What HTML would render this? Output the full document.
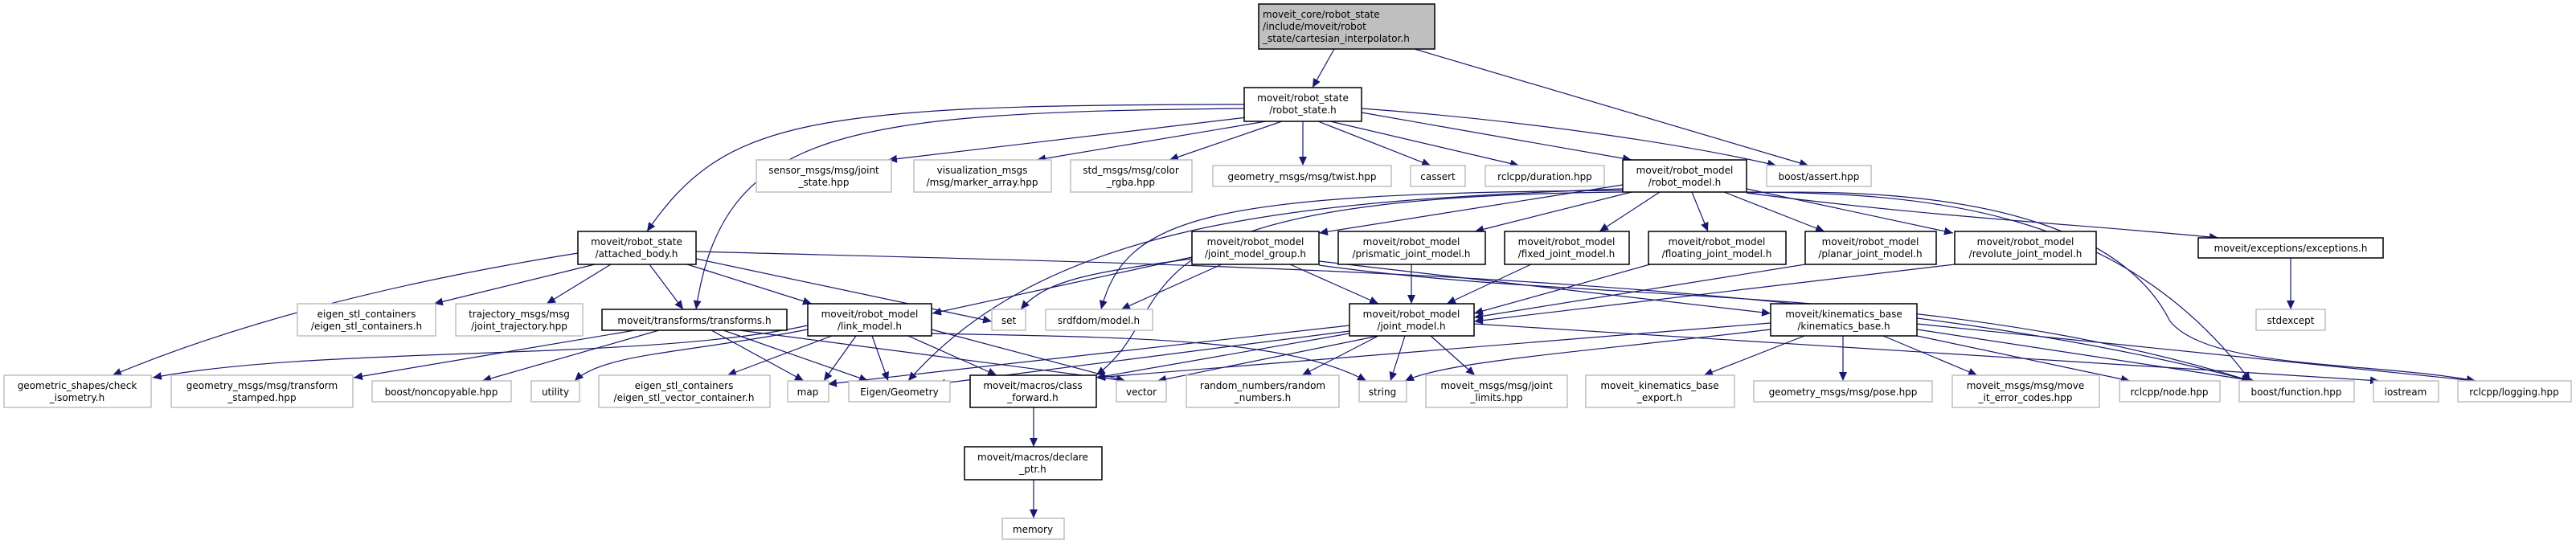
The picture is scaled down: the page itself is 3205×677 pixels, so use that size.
<!DOCTYPE html>
<html><head><meta charset="utf-8"><style>
html,body{margin:0;padding:0;background:#fff;}
svg{display:block;}
text{font-family:"DejaVu Sans","Liberation Sans",sans-serif;font-size:12px;fill:#000;}
.g{fill:#fff;stroke:#bfbfbf;stroke-width:1.5;}
.b{fill:#fff;stroke:#000;stroke-width:1.5;}
.e{fill:none;stroke:#191970;stroke-width:1.2;marker-end:url(#a);}
</style></head><body>
<svg width="3205" height="677" viewBox="0 0 3205 677" xmlns="http://www.w3.org/2000/svg">
<defs><marker id="a" markerUnits="userSpaceOnUse" markerWidth="12" markerHeight="10" refX="11" refY="5" orient="auto"><path d="M0,0 L11,5 L0,10 z" fill="#191970"/></marker></defs>
<g>
<path class="e" d="M1660,61 L1633,109"/>
<path class="e" d="M1760,61 L2250,206"/>
<path class="e" d="M1560,145 L1105,199"/>
<path class="e" d="M1575,151 L1290,199"/>
<path class="e" d="M1595,151 L1455,199"/>
<path class="e" d="M1621,151 L1621,206"/>
<path class="e" d="M1640,151 L1780,206"/>
<path class="e" d="M1655,151 L1890,206"/>
<path class="e" d="M1694,140 L2030,199"/>
<path class="e" d="M1694,135 C1900,150 2100,180 2210,206"/>
<path class="e" d="M1548,130 C1000,130 900,150 805,288"/>
<path class="e" d="M1548,135 C1050,140 900,160 866,385"/>
<path class="e" d="M2019,230 L1641,290"/>
<path class="e" d="M2030,239 L1835,288"/>
<path class="e" d="M2065,239 L1990,288"/>
<path class="e" d="M2105,239 L2125,288"/>
<path class="e" d="M2145,239 L2270,288"/>
<path class="e" d="M2173,235 L2430,290"/>
<path class="e" d="M2173,240 C2400,270 2600,280 2760,296"/>
<path class="e" d="M2019,235 C1600,250 1300,280 1130,474"/>
<path class="e" d="M2019,237 C1500,240 1400,270 1370,385"/>
<path class="e" d="M2019,239 C1350,245 1480,380 1364,467"/>
<path class="e" d="M2173,239 C2400,240 2640,260 2800,474"/>
<path class="e" d="M2173,240 C2500,230 2650,300 2700,400 C2750,460 2950,450 3080,474"/>
<path class="e" d="M719,315 C500,350 300,400 140,467"/>
<path class="e" d="M740,329 L540,378"/>
<path class="e" d="M760,329 L680,378"/>
<path class="e" d="M808,329 L850,385"/>
<path class="e" d="M855,329 L1010,378"/>
<path class="e" d="M866,322 L1234,400"/>
<path class="e" d="M866,313 C1500,330 2300,340 2800,474"/>
<path class="e" d="M790,411 L440,470"/>
<path class="e" d="M820,411 L600,474"/>
<path class="e" d="M885,411 L1000,474"/>
<path class="e" d="M900,411 L1080,474"/>
<path class="e" d="M920,411 L1400,474"/>
<path class="e" d="M1005,405 C800,450 400,430 190,470"/>
<path class="e" d="M1005,410 C850,440 750,440 715,474"/>
<path class="e" d="M1035,418 L905,467"/>
<path class="e" d="M1065,418 L1025,474"/>
<path class="e" d="M1085,418 L1105,474"/>
<path class="e" d="M1130,418 L1240,467"/>
<path class="e" d="M1159,410 L1400,474"/>
<path class="e" d="M1159,415 C1400,420 1600,420 1700,474"/>
<path class="e" d="M1483,320 L1160,390"/>
<path class="e" d="M1483,322 C1350,340 1300,350 1270,385"/>
<path class="e" d="M1520,329 L1395,385"/>
<path class="e" d="M1605,329 L1715,378"/>
<path class="e" d="M1641,325 L2203,390"/>
<path class="e" d="M1641,330 C2000,380 2400,350 2800,474"/>
<path class="e" d="M1756,329 L1756,378"/>
<path class="e" d="M1905,329 L1800,378"/>
<path class="e" d="M2053,329 L1834,390"/>
<path class="e" d="M2246,329 L1834,395"/>
<path class="e" d="M2432,329 L1834,400"/>
<path class="e" d="M1679,405 L1030,478"/>
<path class="e" d="M1679,412 L1165,478"/>
<path class="e" d="M1679,415 L1364,470"/>
<path class="e" d="M1715,418 L1440,474"/>
<path class="e" d="M1715,418 L1620,467"/>
<path class="e" d="M1748,418 L1730,474"/>
<path class="e" d="M1780,418 L1835,467"/>
<path class="e" d="M1834,403 L2960,474"/>
<path class="e" d="M2245,418 L2120,467"/>
<path class="e" d="M2293,418 L2293,474"/>
<path class="e" d="M2343,418 L2460,467"/>
<path class="e" d="M2385,418 L2650,474"/>
<path class="e" d="M2385,410 L2805,474"/>
<path class="e" d="M2385,403 L3080,474"/>
<path class="e" d="M2203,402 L1364,470"/>
<path class="e" d="M2203,410 C1950,440 1800,450 1748,474"/>
<path class="e" d="M2850,321 L2850,385"/>
<path class="e" d="M1286,507 L1286,556"/>
<path class="e" d="M1286,597 L1286,645"/>
</g>
<g>
<rect x="1566" y="5" width="219" height="56" fill="#bfbfbf" stroke="#000" stroke-width="1.5"/>
<text x="1571" y="22">moveit_core/robot_state</text>
<text x="1571" y="37">/include/moveit/robot</text>
<text x="1571" y="52">_state/cartesian_interpolator.h</text>
</g>
<g text-anchor="middle">
<rect class="b" x="1548" y="109" width="146" height="42"/><text x="1621" y="126">moveit/robot_state</text><text x="1621" y="141">/robot_state.h</text>
<rect class="g" x="941" y="199" width="168" height="40"/><text x="1025" y="216">sensor_msgs/msg/joint</text><text x="1025" y="231">_state.hpp</text>
<rect class="g" x="1137" y="199" width="171" height="40"/><text x="1222" y="216">visualization_msgs</text><text x="1222" y="231">/msg/marker_array.hpp</text>
<rect class="g" x="1332" y="199" width="151" height="40"/><text x="1407" y="216">std_msgs/msg/color</text><text x="1407" y="231">_rgba.hpp</text>
<rect class="g" x="1509" y="206" width="222" height="26"/><text x="1620" y="224">geometry_msgs/msg/twist.hpp</text>
<rect class="g" x="1755" y="206" width="68" height="26"/><text x="1789" y="224">cassert</text>
<rect class="g" x="1848" y="206" width="148" height="26"/><text x="1922" y="224">rclcpp/duration.hpp</text>
<rect class="b" x="2019" y="199" width="154" height="40"/><text x="2096" y="216">moveit/robot_model</text><text x="2096" y="231">/robot_model.h</text>
<rect class="g" x="2198" y="206" width="130" height="26"/><text x="2263" y="224">boost/assert.hpp</text>

<rect class="b" x="719" y="288" width="147" height="41"/><text x="792" y="305">moveit/robot_state</text><text x="792" y="320">/attached_body.h</text>
<rect class="b" x="1483" y="288" width="158" height="41"/><text x="1562" y="305">moveit/robot_model</text><text x="1562" y="320">/joint_model_group.h</text>
<rect class="b" x="1665" y="288" width="183" height="41"/><text x="1756" y="305">moveit/robot_model</text><text x="1756" y="320">/prismatic_joint_model.h</text>
<rect class="b" x="1872" y="288" width="155" height="41"/><text x="1949" y="305">moveit/robot_model</text><text x="1949" y="320">/fixed_joint_model.h</text>
<rect class="b" x="2051" y="288" width="171" height="41"/><text x="2136" y="305">moveit/robot_model</text><text x="2136" y="320">/floating_joint_model.h</text>
<rect class="b" x="2246" y="288" width="163" height="41"/><text x="2327" y="305">moveit/robot_model</text><text x="2327" y="320">/planar_joint_model.h</text>
<rect class="b" x="2432" y="288" width="176" height="41"/><text x="2520" y="305">moveit/robot_model</text><text x="2520" y="320">/revolute_joint_model.h</text>
<rect class="b" x="2735" y="296" width="230" height="25"/><text x="2850" y="313">moveit/exceptions/exceptions.h</text>

<rect class="g" x="370" y="378" width="172" height="40"/><text x="456" y="395">eigen_stl_containers</text><text x="456" y="410">/eigen_stl_containers.h</text>
<rect class="g" x="567" y="378" width="158" height="40"/><text x="646" y="395">trajectory_msgs/msg</text><text x="646" y="410">/joint_trajectory.hpp</text>
<rect class="b" x="749" y="385" width="230" height="26"/><text x="864" y="403">moveit/transforms/transforms.h</text>
<rect class="b" x="1005" y="378" width="154" height="40"/><text x="1082" y="395">moveit/robot_model</text><text x="1082" y="410">/link_model.h</text>
<rect class="g" x="1234" y="385" width="42" height="26"/><text x="1255" y="403">set</text>
<rect class="g" x="1301" y="385" width="133" height="26"/><text x="1367" y="403">srdfdom/model.h</text>
<rect class="b" x="1679" y="378" width="155" height="40"/><text x="1756" y="395">moveit/robot_model</text><text x="1756" y="410">/joint_model.h</text>
<rect class="b" x="2203" y="378" width="182" height="40"/><text x="2294" y="395">moveit/kinematics_base</text><text x="2294" y="410">/kinematics_base.h</text>
<rect class="g" x="2807" y="385" width="86" height="26"/><text x="2850" y="403">stdexcept</text>

<rect class="g" x="5" y="467" width="183" height="40"/><text x="96" y="484">geometric_shapes/check</text><text x="96" y="499">_isometry.h</text>
<rect class="g" x="213" y="467" width="226" height="40"/><text x="326" y="484">geometry_msgs/msg/transform</text><text x="326" y="499">_stamped.hpp</text>
<rect class="g" x="463" y="474" width="173" height="26"/><text x="549" y="492">boost/noncopyable.hpp</text>
<rect class="g" x="661" y="474" width="60" height="26"/><text x="691" y="492">utility</text>
<rect class="g" x="745" y="467" width="213" height="40"/><text x="851" y="484">eigen_stl_containers</text><text x="851" y="499">/eigen_stl_vector_container.h</text>
<rect class="g" x="980" y="474" width="51" height="26"/><text x="1005" y="492">map</text>
<rect class="g" x="1056" y="474" width="126" height="26"/><text x="1119" y="492">Eigen/Geometry</text>
<rect class="b" x="1207" y="467" width="157" height="40"/><text x="1285" y="484">moveit/macros/class</text><text x="1285" y="499">_forward.h</text>
<rect class="g" x="1389" y="474" width="62" height="26"/><text x="1420" y="492">vector</text>
<rect class="g" x="1476" y="467" width="190" height="40"/><text x="1571" y="484">random_numbers/random</text><text x="1571" y="499">_numbers.h</text>
<rect class="g" x="1691" y="474" width="59" height="26"/><text x="1720" y="492">string</text>
<rect class="g" x="1774" y="467" width="176" height="40"/><text x="1862" y="484">moveit_msgs/msg/joint</text><text x="1862" y="499">_limits.hpp</text>
<rect class="g" x="1973" y="467" width="185" height="40"/><text x="2065" y="484">moveit_kinematics_base</text><text x="2065" y="499">_export.h</text>
<rect class="g" x="2182" y="474" width="222" height="26"/><text x="2293" y="492">geometry_msgs/msg/pose.hpp</text>
<rect class="g" x="2429" y="467" width="183" height="40"/><text x="2520" y="484">moveit_msgs/msg/move</text><text x="2520" y="499">_it_error_codes.hpp</text>
<rect class="g" x="2637" y="474" width="125" height="26"/><text x="2699" y="492">rclcpp/node.hpp</text>
<rect class="g" x="2786" y="474" width="143" height="26"/><text x="2857" y="492">boost/function.hpp</text>
<rect class="g" x="2953" y="474" width="81" height="26"/><text x="2993" y="492">iostream</text>
<rect class="g" x="3058" y="474" width="141" height="26"/><text x="3128" y="492">rclcpp/logging.hpp</text>

<rect class="b" x="1200" y="556" width="171" height="41"/><text x="1285" y="573">moveit/macros/declare</text><text x="1285" y="588">_ptr.h</text>
<rect class="g" x="1247" y="645" width="77" height="26"/><text x="1285" y="663">memory</text>
</g>
</svg>
</body></html>
